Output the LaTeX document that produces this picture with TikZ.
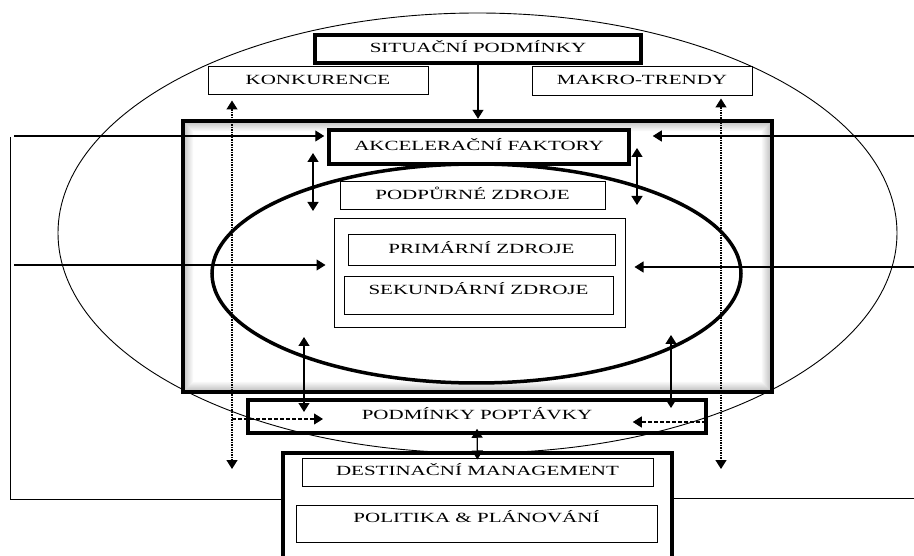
\documentclass[tikz,border=0pt]{standalone}
\usepackage{fontspec}
\setmainfont{Liberation Serif}[FakeStretch=1.5]
\usetikzlibrary{arrows.meta,calc}

\begin{document}
\begin{tikzpicture}[x=1pt,y=-1pt,
  every node/.style={font=\fontsize{14}{16}\selectfont},
  box/.style={draw,fill=white,line width=1pt,inner sep=0pt,text height=10pt,text depth=3pt},
  heavy/.style={box,line width=3.5pt},
  uptext/.style={text depth=12pt},
  oneway/.style={-{Triangle[length=9pt,width=11pt]},line width=1.1pt},
  twoway/.style={{Triangle[length=9pt,width=11pt]}-{Triangle[length=9pt,width=11pt]},line width=1.3pt},
  dots/.style={twoway,dash pattern=on 1.5pt off 1pt,line width=1.3pt},
  hint/.style={oneway,dash pattern=on 4pt off 2pt}]

\useasboundingbox (0,0) rectangle (914,556);

% outer and inner rings
\draw[line width=0.9pt] (477.5,233) ellipse [x radius=419.5pt,y radius=220pt];
\node[minimum width=589pt,minimum height=271pt,inner sep=0pt] (panel) at (477.5,256.5) {};
\fill[white] (panel.north west) rectangle (panel.south east);
\foreach \i [evaluate=\i as \g using int(56-5*\i)] in {1,...,11}
  \draw[gray!\g,line width=1.1pt] ([shift={(\i,\i)}]panel.north west) rectangle ([shift={(-\i,-\i)}]panel.south east);
\draw[line width=3.5pt] (panel.north west) rectangle (panel.south east);
\draw[line width=3.5pt] (476.5,273.5) ellipse [x radius=264.5pt,y radius=109.5pt];

\node[heavy,minimum width=326pt,minimum height=28pt] (sit) at (478,49) {SITUAČNÍ PODMÍNKY};
\node[box,minimum width=220pt,minimum height=28pt] (konk) at (318,81) {KONKURENCE};
\node[box,minimum width=220pt,minimum height=29pt] (makro) at (642,81.5) {MAKRO-TRENDY};
\node[heavy,minimum width=300pt,minimum height=34pt] (akc) at (479,147) {AKCELERAČNÍ FAKTORY};
\node[box,minimum width=265pt,minimum height=28pt] (podp) at (472.5,196) {PODPŮRNÉ ZDROJE};
\node[box,minimum width=291pt,minimum height=109pt] (inner) at (479.5,273.5) {};
\node[box,minimum width=267pt,minimum height=31pt] (prim) at (481.5,250.5) {PRIMÁRNÍ ZDROJE};
\node[box,uptext,minimum width=269pt,minimum height=38pt] (sek) at (478.5,296) {SEKUNDÁRNÍ ZDROJE};
\node[heavy,fill=none,minimum width=458pt,minimum height=33pt] (pod) at (477,416.5) {PODMÍNKY POPTÁVKY};
\node[heavy,minimum width=389pt,minimum height=140pt] (mgmt) at (477.5,523) {};
\node[box,minimum width=351pt,minimum height=28pt] (dman) at (477.5,472) {DESTINAČNÍ MANAGEMENT};
\node[box,uptext,minimum width=361pt,minimum height=37pt] (pol) at (476.5,523.5) {POLITIKA \& PLÁNOVÁNÍ};

% free ends
\coordinate (lA) at (14,136);   \coordinate (lB) at (14,265);
\coordinate (lT) at (10,137);   \coordinate (lC) at (10,499);
\coordinate (rA) at (914,136);  \coordinate (rB) at (914,267);
\coordinate (rC) at (914,498);
\coordinate (kd) at (232,469);  \coordinate (md) at (721,469);
\coordinate (u1) at (313,153);  \coordinate (u2) at (313,211);
\coordinate (v1) at (637,148);  \coordinate (v2) at (637,205);
\coordinate (s1) at (304,337);  \coordinate (s2) at (304,412);
\coordinate (t1) at (671,335);  \coordinate (t2) at (671,408);

\draw[oneway,shorten >=2pt] (sit.south) -- (sit.south |- panel.north);
\draw[oneway,shorten >=3pt] (lA) -- (lA -| akc.west);
\draw[oneway,shorten >=8pt] (lB) -- (lB -| inner.west);
\draw[oneway,shorten >=22pt] (rA) -- (rA -| akc.east);
\draw[oneway,shorten >=9pt] (rB) -- (rB -| inner.east);
\draw[line width=1pt] (lT) -- (lC) -- (lC -| mgmt.west);
\draw[line width=1pt] (rC) -- (rC -| mgmt.east);

\draw[twoway] (u1) -- (u2);
\draw[twoway] (v1) -- (v2);
\draw[twoway] (s1) -- (s2);
\draw[twoway] (t1) -- (t2);
\draw[twoway] ($(pod.south)+(0,-6)$) -- ($(dman.north)+(0,2)$);

\draw[dots,shorten <=5pt] (kd |- konk.south) -- (kd);
\draw[dots,shorten <=2pt] (md |- makro.south) -- (md);
\draw[hint] ($(kd |- pod.center)+(0,2.5)$) -- ++(91,0);
\draw[hint] ($(pod.east)+(-2,5.5)$) -- ++(-73,0);
\end{tikzpicture}
\end{document}
